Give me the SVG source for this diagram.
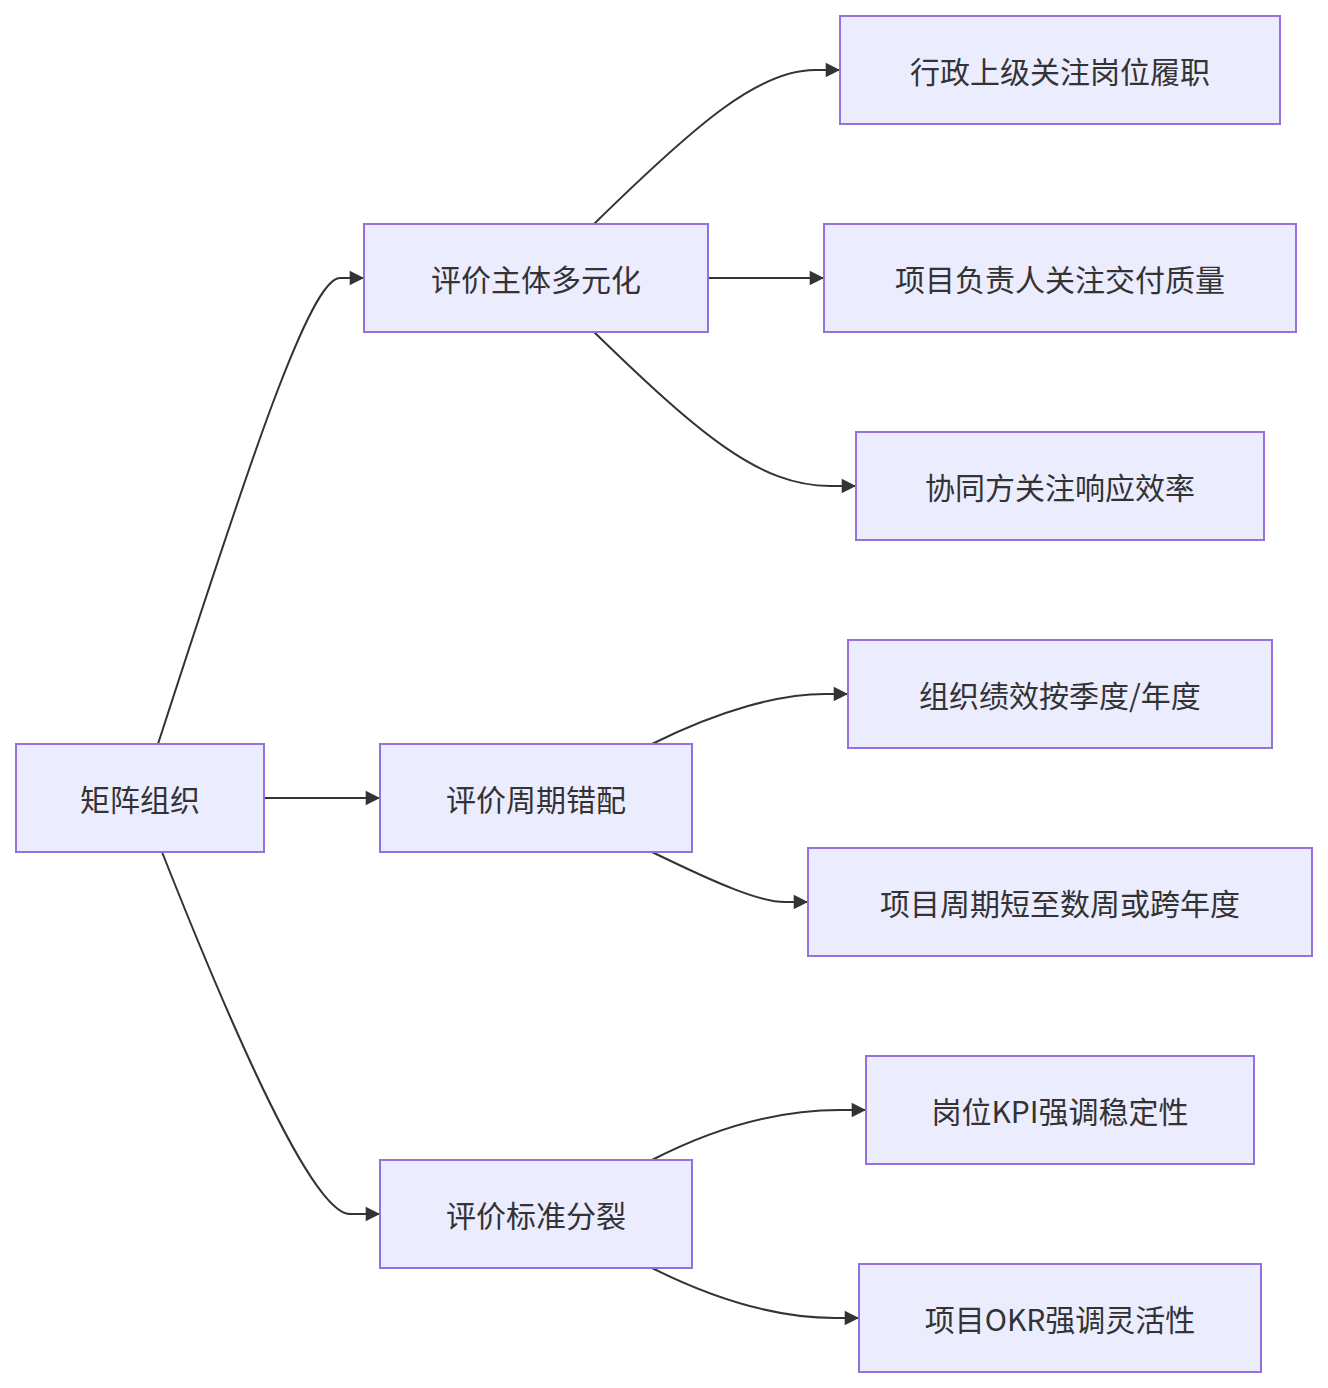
<svg xmlns="http://www.w3.org/2000/svg" width="1328" height="1388" viewBox="0 0 1328 1388">
<style>
.n rect{fill:#ECECFF;stroke:#9370DB;stroke-width:2}
.n text{font-family:"Noto Sans CJK SC","Noto Sans",sans-serif;font-size:30px;fill:#333;text-anchor:middle;dominant-baseline:central}
.e path{fill:none;stroke:#333;stroke-width:2;marker-end:url(#a)}
</style>
<defs><marker id="a" viewBox="0 0 10 10" refX="10" refY="5" markerWidth="8" markerHeight="8" markerUnits="userSpaceOnUse" orient="auto" overflow="visible"><path d="M0,0L10,5L0,10z" fill="#333" transform="scale(1.8) translate(-4.4,-2.2)"/></marker></defs>
<rect width="1328" height="1388" fill="#fff"/>
<g class="e">
<path d="M158,744 C250,460 310,278 340,278 L364,278"/>
<path d="M264,798 L380,798"/>
<path d="M162,852 C260,1100 320,1214 350,1214 L380,1214"/>
<path d="M594,224 C700,120 760,70 815,70 L840,70"/>
<path d="M708,278 L824,278"/>
<path d="M594,332 C700,435 760,486 830,486 L856,486"/>
<path d="M652,744 C720,710 780,694 825,694 L848,694"/>
<path d="M652,852 C720,885 760,902 785,902 L808,902"/>
<path d="M652,1160 C720,1125 780,1110 840,1110 L866,1110"/>
<path d="M652,1268 C720,1302 780,1318 835,1318 L859,1318"/>
</g>
<g id="n0" class="n"><rect x="16" y="744" width="248" height="108"/><text x="140" y="798">矩阵组织</text></g>
<g id="n1" class="n"><rect x="364" y="224" width="344" height="108"/><text x="536" y="278">评价主体多元化</text></g>
<g id="n2" class="n"><rect x="380" y="744" width="312" height="108"/><text x="536" y="798">评价周期错配</text></g>
<g id="n3" class="n"><rect x="380" y="1160" width="312" height="108"/><text x="536" y="1214">评价标准分裂</text></g>
<g id="n4" class="n"><rect x="840" y="16" width="440" height="108"/><text x="1060" y="70">行政上级关注岗位履职</text></g>
<g id="n5" class="n"><rect x="824" y="224" width="472" height="108"/><text x="1060" y="278">项目负责人关注交付质量</text></g>
<g id="n6" class="n"><rect x="856" y="432" width="408" height="108"/><text x="1060" y="486">协同方关注响应效率</text></g>
<g id="n7" class="n"><rect x="848" y="640" width="424" height="108"/><text x="1060" y="694">组织绩效按季度/年度</text></g>
<g id="n8" class="n"><rect x="808" y="848" width="504" height="108"/><text x="1060" y="902">项目周期短至数周或跨年度</text></g>
<g id="n9" class="n"><rect x="866" y="1056" width="388" height="108"/><text x="1060" y="1110">岗位KPI强调稳定性</text></g>
<g id="n10" class="n"><rect x="859" y="1264" width="402" height="108"/><text x="1060" y="1318">项目OKR强调灵活性</text></g>
</svg>
